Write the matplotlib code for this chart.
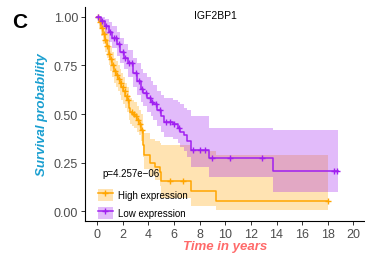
import numpy as np
import matplotlib
matplotlib.use("Agg")
import matplotlib.pyplot as plt
from matplotlib.patches import Patch
from matplotlib.lines import Line2D

plt.rcParams['font.family'] = ['Liberation Sans', 'DejaVu Sans']

# High expression group (orange): step times, survival, CI
high_t = [0.0, 0.15, 0.3, 0.45, 0.6, 0.75, 0.9, 1.0, 1.15, 1.3, 1.45, 1.6, 1.75, 1.9,
          2.05, 2.2, 2.35, 2.5, 2.6, 2.75, 2.9, 3.1, 3.25, 3.4, 3.55, 3.6, 3.65,
          4.1, 4.5, 4.9, 5.0, 7.3, 9.3, 18.0]
high_s = [1.0, 0.97, 0.94, 0.91, 0.88, 0.85, 0.81, 0.78, 0.75, 0.72, 0.70, 0.68, 0.66, 0.64,
          0.62, 0.59, 0.57, 0.53, 0.51, 0.50, 0.49, 0.47, 0.45, 0.42, 0.38, 0.34, 0.29,
          0.25, 0.23, 0.20, 0.155, 0.103, 0.052, 0.052]
high_up = [1.0, 1.0, 0.99, 0.97, 0.95, 0.92, 0.88, 0.85, 0.82, 0.79, 0.77, 0.75, 0.73, 0.71,
           0.69, 0.66, 0.64, 0.60, 0.58, 0.57, 0.56, 0.54, 0.52, 0.50, 0.46, 0.42, 0.40,
           0.37, 0.36, 0.35, 0.34, 0.31, 0.29, 0.29]
high_lo = [1.0, 0.94, 0.90, 0.86, 0.82, 0.79, 0.75, 0.72, 0.69, 0.66, 0.64, 0.62, 0.60, 0.57,
           0.55, 0.53, 0.51, 0.47, 0.45, 0.44, 0.43, 0.41, 0.39, 0.36, 0.32, 0.28, 0.22,
           0.18, 0.16, 0.13, 0.07, 0.03, 0.005, 0.005]
high_cens = [0.05, 0.2, 0.35, 0.5, 0.65, 0.8, 0.95, 1.1, 1.25, 1.4, 1.55, 1.7, 1.85, 2.0,
             2.15, 2.3, 2.45, 2.7, 2.85, 3.0, 3.2, 3.35, 3.5, 5.7, 6.7, 18.0]

# Low expression group (purple)
low_t = [0.0, 0.3, 0.6, 0.9, 1.2, 1.55, 1.8, 2.1, 2.4, 2.8, 3.1, 3.4, 3.6, 3.9, 4.2, 4.4,
         4.7, 5.0, 5.2, 5.9, 6.3, 6.5, 6.8, 7.0, 7.3, 8.75, 13.7, 18.8]
low_s = [1.0, 0.98, 0.95, 0.92, 0.89, 0.86, 0.82, 0.79, 0.76, 0.71, 0.67, 0.63, 0.61, 0.58,
         0.56, 0.55, 0.52, 0.49, 0.46, 0.45, 0.43, 0.41, 0.39, 0.36, 0.315, 0.273, 0.206, 0.206]
low_up = [1.0, 1.0, 0.99, 0.97, 0.95, 0.92, 0.89, 0.86, 0.83, 0.79, 0.76, 0.73, 0.71, 0.69,
          0.67, 0.65, 0.62, 0.60, 0.58, 0.57, 0.56, 0.55, 0.53, 0.52, 0.49, 0.43, 0.42, 0.42]
low_lo = [1.0, 0.95, 0.91, 0.87, 0.84, 0.80, 0.76, 0.73, 0.69, 0.64, 0.60, 0.56, 0.54, 0.51,
          0.49, 0.47, 0.44, 0.41, 0.38, 0.37, 0.35, 0.33, 0.31, 0.28, 0.23, 0.175, 0.10, 0.10]
low_cens = [0.1, 0.4, 0.7, 1.0, 1.3, 1.5, 1.7, 2.0, 2.2, 2.5, 2.7, 3.0, 3.3, 3.5, 3.8, 4.1,
            4.3, 4.6, 4.9, 5.4, 5.7, 6.0, 6.4, 7.5, 8.0, 8.4, 9.0, 10.4, 12.9, 18.5, 18.7]

groups = [("High expression", "#FFA500", high_t, high_s, high_up, high_lo, high_cens),
          ("Low expression", "#A020F0", low_t, low_s, low_up, low_lo, low_cens)]

fig = plt.figure(figsize=(3.65, 2.55), dpi=100)
ax = fig.add_axes([0.233, 0.129, 0.767, 0.84])

handles = []
for name, col, t, s, up, lo, cens in groups:
    ax.fill_between(t, lo, up, step='post', color=col, alpha=0.3, lw=0)
    ax.step(t, s, where='post', color=col, lw=1.1)
    idx = np.searchsorted(t, cens, side='right') - 1
    ax.plot(cens, np.array(s)[idx], ls='none', marker='+', color=col, ms=5, mew=1)
    handles.append((Patch(facecolor=col, alpha=0.3, lw=0),
                    Line2D([], [], color=col, lw=1.1, marker='+', ms=5, mew=1)))

ax.set_xlim(-0.94, 20.9)
ax.set_ylim(-0.05, 1.05)
ax.set_xticks([0, 2, 4, 6, 8, 10, 12, 14, 16, 18, 20])
ax.set_yticks([0, 0.25, 0.5, 0.75, 1.0])
ax.set_yticklabels(["0.00", "0.25", "0.50", "0.75", "1.00"])
for sp in ['top', 'right']:
    ax.spines[sp].set_visible(False)
for sp in ['left', 'bottom']:
    ax.spines[sp].set_linewidth(0.8)
ax.tick_params(labelsize=9, colors='#333333', labelcolor='#4D4D4D', length=3, width=0.7,
               pad=2)

ax.set_ylabel("Survival probability", fontsize=9.5, fontweight='bold', fontstyle='italic',
              color='#1A9FD0')
ax.yaxis.set_label_coords(-0.132, 0.5)
ax.set_xlabel("Time in years", fontsize=9.5, fontweight='bold', fontstyle='italic',
              color='#FF6A6A', labelpad=0)

ax.text(0.4, 0.196, "p=4.257e\u221206", fontsize=7, va='center', ha='left')

ax.legend(handles, ["High expression", "Low expression"], loc='lower left',
          bbox_to_anchor=(0.046, 0.01), frameon=False, fontsize=7, handlelength=1.55,
          handleheight=1.55, labelspacing=0.6, handletextpad=0.5, borderpad=0,
          borderaxespad=0)

fig.text(215 / 365, 1 - 16 / 255, "IGF2BP1", fontsize=7.5, ha='center', va='center')
fig.text(20 / 365, 1 - 22 / 255, "C", fontsize=15, fontweight='bold', ha='center', va='center')

fig.savefig("out.png", dpi=100)
